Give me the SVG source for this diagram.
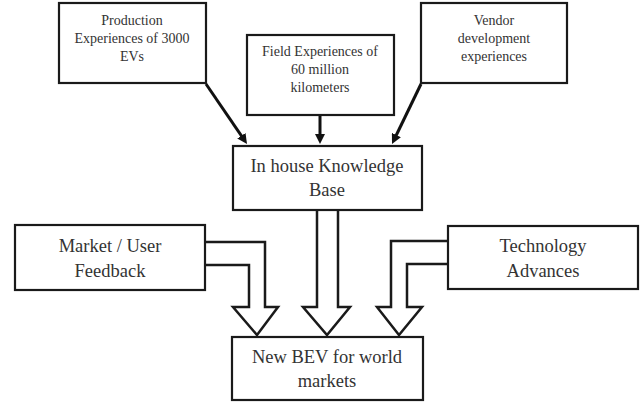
<svg xmlns="http://www.w3.org/2000/svg" width="641" height="402" viewBox="0 0 641 402">
<style>
.box{fill:#fff;stroke:#1a1a1a;stroke-width:2.2}
.t{font-family:"Liberation Serif","Times New Roman",serif;fill:#333;text-anchor:middle}
.s{font-size:14px}
.l{font-size:18.5px}
.thin{fill:none;stroke:#111;stroke-width:3}
.hollow{fill:#fff;stroke:#1a1a1a;stroke-width:2.5;stroke-linejoin:miter}
</style>
<defs>
<marker id="ah" markerUnits="userSpaceOnUse" markerWidth="10" markerHeight="10" refX="5" refY="5" orient="auto">
<path d="M0,0 L10,5 L0,10 z" fill="#111"/>
</marker>
</defs>
<rect width="641" height="402" fill="#fff"/>
<g id="connectors">
<path class="thin" d="M206,84 L244.2,139.9" marker-end="url(#ah)"/>
<path class="thin" d="M320,115 L320,139" marker-end="url(#ah)"/>
<path class="thin" d="M421,84 L394.2,139.5" marker-end="url(#ah)"/>
<path class="hollow" d="M317,210 V307 H303 L327,335 L350,307 H338 V210"/>
<path class="hollow" d="M206,242 H265 V307 H278 L257,335 L233,307 H249 V265 H206"/>
<path class="hollow" d="M448,241 H391 V307 H377 L399,335 L422,307 H407 V264 H448"/>
</g>
<g id="production">
<rect class="box" x="59" y="3" width="147" height="80"/>
<text class="t s" x="132" y="25">Production</text>
<text class="t s" x="132" y="43">Experiences of 3000</text>
<text class="t s" x="132" y="61">EVs</text>
</g>
<g id="field">
<rect class="box" x="247" y="35" width="147" height="80"/>
<text class="t s" x="320" y="56">Field Experiences of</text>
<text class="t s" x="320" y="74">60 million</text>
<text class="t s" x="320" y="92">kilometers</text>
</g>
<g id="vendor">
<rect class="box" x="421" y="3" width="146" height="80"/>
<text class="t s" x="494" y="25">Vendor</text>
<text class="t s" x="494" y="43">development</text>
<text class="t s" x="494" y="61">experiences</text>
</g>
<g id="knowledge">
<rect class="box" x="233" y="146" width="189" height="64"/>
<text class="t l" x="327" y="172">In house Knowledge</text>
<text class="t l" x="327" y="196">Base</text>
</g>
<g id="market">
<rect class="box" x="15" y="225" width="190" height="65"/>
<text class="t l" x="110" y="252">Market / User</text>
<text class="t l" x="110" y="277">Feedback</text>
</g>
<g id="technology">
<rect class="box" x="448" y="226" width="190" height="63"/>
<text class="t l" x="543" y="252">Technology</text>
<text class="t l" x="543" y="277">Advances</text>
</g>
<g id="newbev">
<rect class="box" x="232" y="337" width="191" height="63"/>
<text class="t l" x="327" y="363">New BEV for world</text>
<text class="t l" x="327" y="387">markets</text>
</g>
</svg>
